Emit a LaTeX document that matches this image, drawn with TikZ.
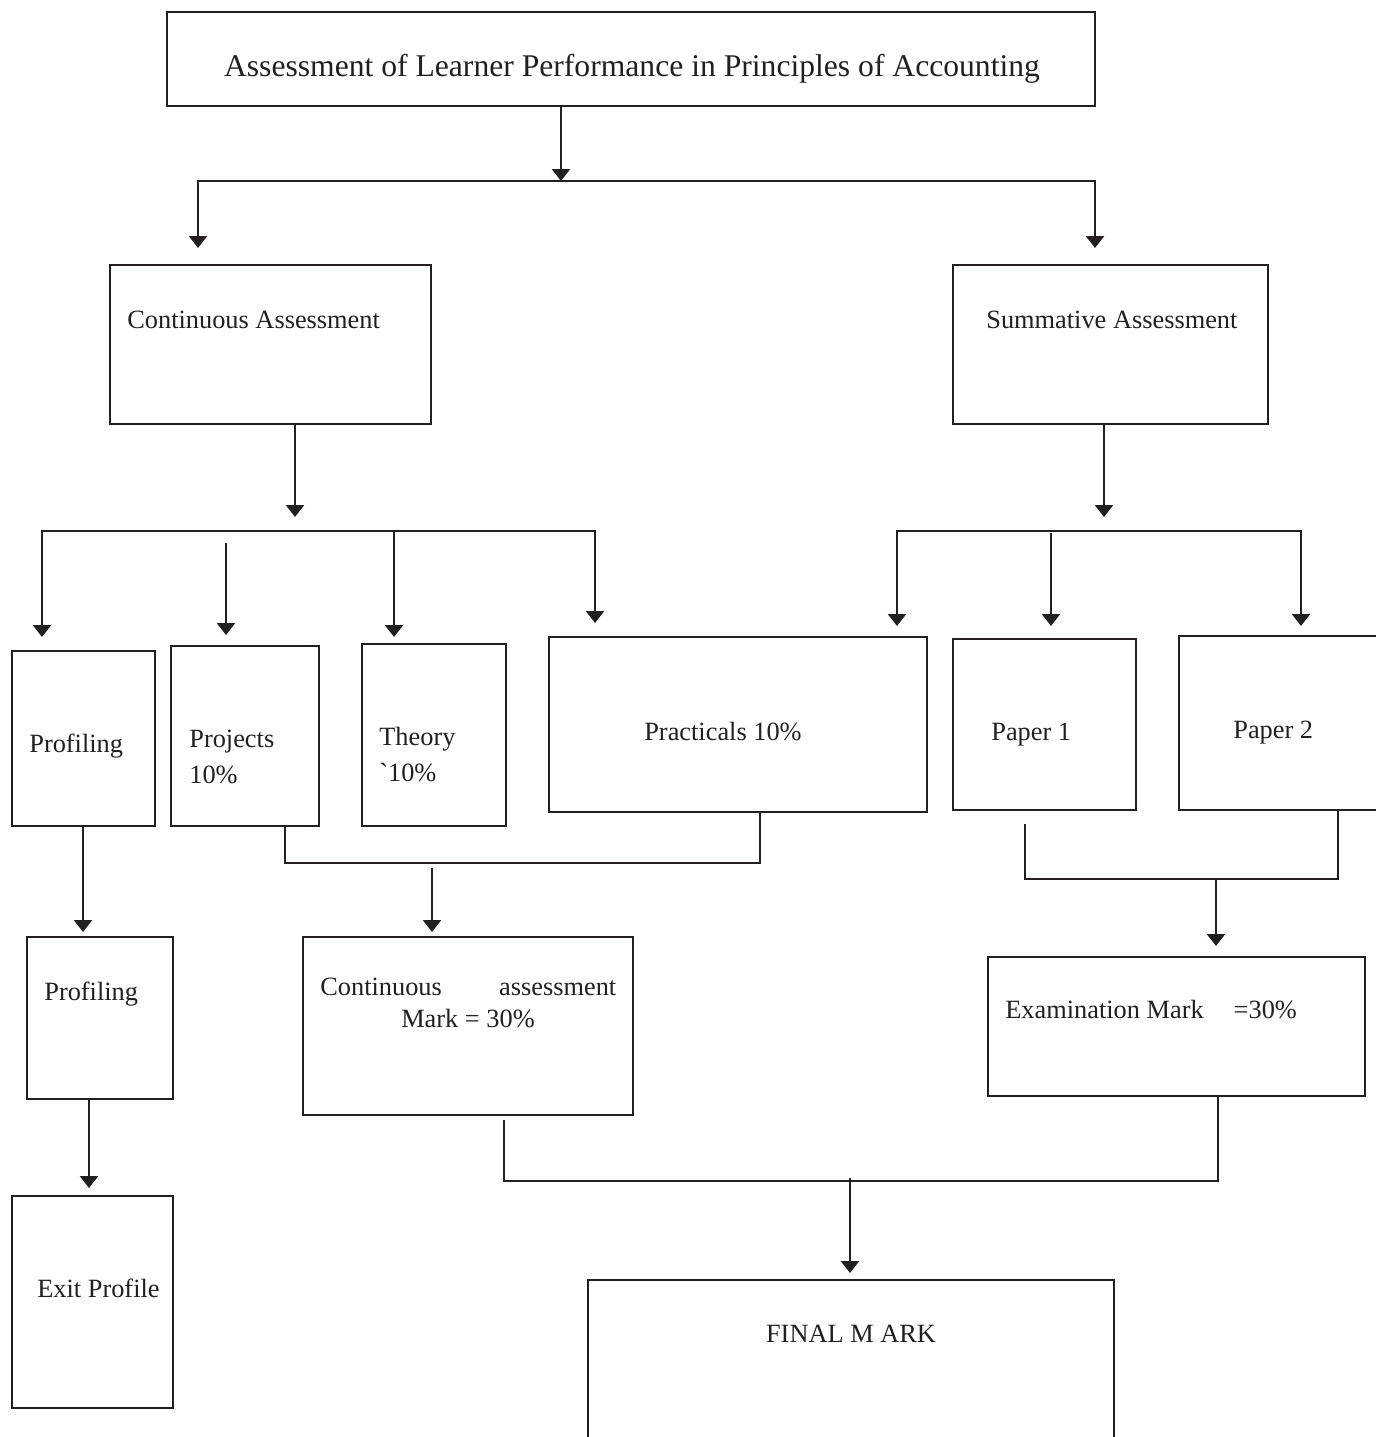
\documentclass[tikz,border=0pt]{standalone}
\usepackage{fontspec}
\setmainfont{Liberation Serif}
\newfontfamily\rawserif{Liberation Serif}
\usepackage{tikz}
\usetikzlibrary{arrows.meta,fit}
\definecolor{ink}{HTML}{231F20}

\begin{document}
\begin{tikzpicture}[x=0.02cm,y=-0.02cm,
    box/.style={draw=ink,line width=1.4pt,inner sep=0pt,rectangle},
    txt/.style={anchor=base west,inner sep=0pt,text=ink,font=\fontsize{15}{18}\selectfont},
    link/.style={draw=ink,line width=1.4pt},
    arr/.style={link,-{Triangle[length=6.8pt,width=10.2pt]}},
    dbl/.style={link,{Triangle[length=6.8pt,width=10.2pt]}-{Triangle[length=6.8pt,width=10.2pt]}}]
\useasboundingbox (0,0) rectangle (1376,1437);
\clip (0,0) rectangle (1376,1437);

% Boxes
\node[box,fit={(167,12) (1095,106)}] (title) {};
\node[box,fit={(110,265) (431,424)}] (ca) {};
\node[box,fit={(953,265) (1268,424)}] (sa) {};
\node[box,fit={(12,651) (155,826)}] (prof) {};
\node[box,fit={(171,646) (319,826)}] (proj) {};
\node[box,fit={(362,644) (506,826)}] (theo) {};
\node[box,fit={(549,637) (927,812)}] (prac) {};
\node[box,fit={(953,639) (1136,810)}] (pap1) {};
\node[box,fit={(1179,636) (1400,810)}] (pap2) {};
\node[box,fit={(27,937) (173,1099)}] (prof2) {};
\node[box,fit={(303,937) (633,1115)}] (cmark) {};
\node[box,fit={(988,957) (1365,1096)}] (exam) {};
\node[box,fit={(12,1196) (173,1408)}] (exit) {};
\node[box,fit={(588,1280) (1114,1460)}] (final) {};

% Texts
\node[txt,anchor=base,font=\fontsize{18}{21}\selectfont] (titleT) at (632,76)
    {Assessment of Learner Performance in Principles of Accounting};
\node[txt] (caT) at (127,328) {Continuous Assessment};
\node[txt] (saT) at (986,328) {Summative Assessment};
\node[txt] (profT) at (29,752) {Profiling};
\node[txt] (projT) at (189,747) {Projects};
\node[txt] (projP) at (189,783) {10\%};
\node[txt] (theoT) at (379,745) {Theory};
\node[txt] (theoP) at (379,781) {{\rawserif`}10\%};
\node[txt,anchor=base] (pracT) at (723,740) {Practicals 10\%};
\node[txt] (pap1T) at (991,740) {Paper 1};
\node[txt] (pap2T) at (1233,738) {Paper 2};
\node[txt] (prof2T) at (44,1000) {Profiling};
\node[txt] (cmT1) at (320,995) {\hbox to 5.92cm{Continuous\hfill assessment}};
\node[txt,anchor=base] (cmT2) at (468,1027) {Mark = 30\%};
\node[txt] (exT) at (1005,1018) {Examination Mark\hspace*{0.6cm}=30\%};
\node[txt] (exitT) at (37,1297) {Exit Profile};
\node[txt,anchor=base] (finT) at (851,1342) {FINAL M ARK};

% Connector points
\coordinate (t1) at (561,181);
\coordinate (bR) at (1095,181);
\coordinate (aCA) at (198,248);
\coordinate (aSA) at (1095,248);
\coordinate (c1) at (295,517);
\coordinate (cR) at (595,531);
\coordinate (pA) at (42,637);
\coordinate (pB0) at (226,543);
\coordinate (pB) at (226,635);
\coordinate (cT) at (394,531);
\coordinate (pC) at (394,637);
\coordinate (pD) at (595,623);
\coordinate (s1) at (1104,517);
\coordinate (sR) at (1301,531);
\coordinate (qA) at (897,626);
\coordinate (qB0) at (1051,533);
\coordinate (qB) at (1051,626);
\coordinate (qC) at (1301,626);
\coordinate (q1) at (83,932);
\coordinate (q2) at (89,1188);
\coordinate (k1) at (285,863);
\coordinate (k2) at (760,863);
\coordinate (m0) at (432,868);
\coordinate (m1) at (432,932);
\coordinate (r0) at (1025,824);
\coordinate (r1) at (1025,879);
\coordinate (r2) at (1338,879);
\coordinate (e0) at (1216,879);
\coordinate (e1) at (1216,946);
\coordinate (f0) at (504,1120);
\coordinate (f1) at (504,1181);
\coordinate (f2) at (1218,1181);
\coordinate (g0) at (850,1178);
\coordinate (g1) at (850,1273);

% Top split
\draw[arr] (title.south -| t1) -- (t1);
\draw[dbl] (aCA) |- (bR) -- (aSA);

% Continuous side
\draw[arr] (ca.south -| c1) -- (c1);
\draw[dbl] (pA) |- (cR) -- (pD);
\draw[arr] (cT) -- (pC);
\draw[arr] (pB0) -- (pB);

% Summative side
\draw[arr] (sa.south -| s1) -- (s1);
\draw[dbl] (qA) |- (sR) -- (qC);
\draw[arr] (qB0) -- (qB);

% Profiling chain
\draw[arr] (prof.south -| q1) -- (q1);
\draw[arr] (prof2.south -| q2) -- (q2);

% Marks
\draw[link] (proj.south -| k1) -- (k1) -- (k2) -- (prac.south -| k2);
\draw[arr] (m0) -- (m1);
\draw[link] (r0) -- (r1) -- (r2) -- (pap2.south -| r2);
\draw[arr] (e0) -- (e1);
\draw[link] (f0) -- (f1) -- (f2) -- (exam.south -| f2);
\draw[arr] (g0) -- (g1);
\end{tikzpicture}
\end{document}
